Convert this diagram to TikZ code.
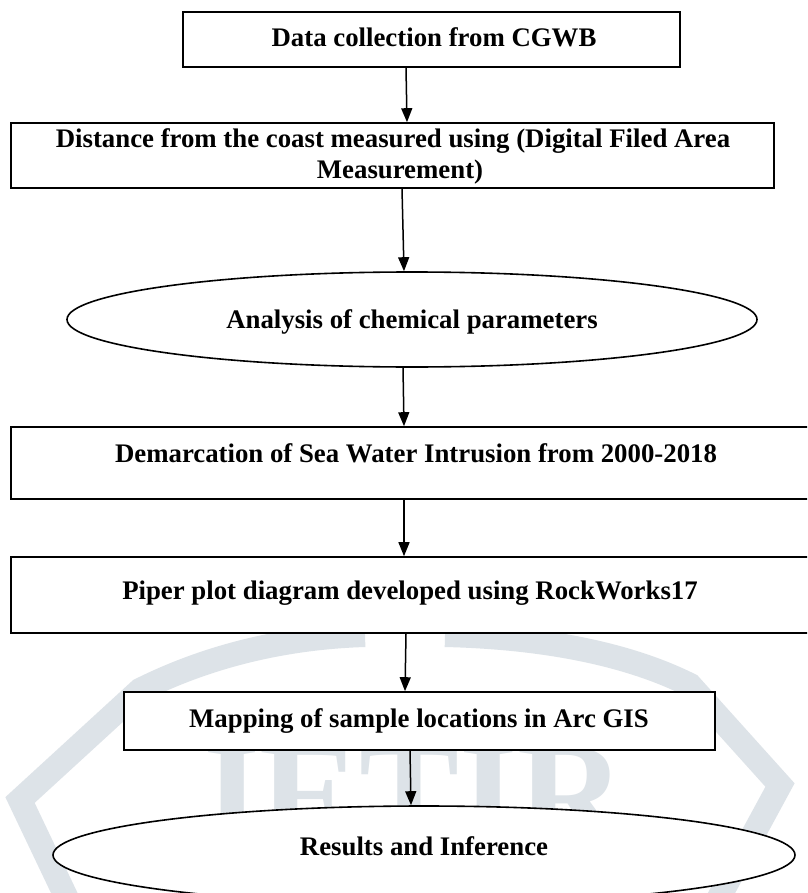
\documentclass[tikz,border=0pt]{standalone}
\usepackage{fontspec}
\setmainfont{Liberation Serif}
\usetikzlibrary{arrows.meta,shapes.geometric,calc}
\definecolor{wm}{HTML}{DDE3E8}
\begin{document}
\begin{tikzpicture}[x=1pt,y=-1pt,
  box/.style={draw=black,line width=1.6pt,fill=white,rectangle,inner sep=0pt},
  oval/.style={draw=black,line width=1.6pt,fill=white,ellipse,inner sep=0pt},
  lbl/.style={font=\bfseries\fontsize{26.8}{31}\selectfont,inner sep=0pt,anchor=base},
  arr/.style={line width=1.5pt,-{Triangle[length=14pt,width=11pt]}},
  wmline/.style={draw=wm,line width=24pt}]
\clip (0,0) rectangle (807,893);
\fill[white] (0,0) rectangle (807,893);
% watermark
\draw[wmline] (70,905) -- (20,800) -- (140,690) .. controls (220,650) and (300,637) .. (365,635);
\draw[wmline] (445,635) .. controls (530,637) and (620,650) .. (690,685) -- (780,785) -- (715,905);
\node[text=wm,font=\bfseries\fontsize{150}{150}\selectfont,inner sep=0pt,anchor=base,
      text height=100pt,text depth=-40pt] (wmtext) at (405,845) {JETIR};
% shapes
\node[box,minimum width=497pt,minimum height=55pt] (b1) at (431.5,39.5) {};
\node[box,minimum width=763pt,minimum height=65pt] (b2) at (392.5,155.5) {};
\node[oval,minimum width=690pt,minimum height=95pt] (e1) at (412,319.5) {};
\node[box,minimum width=804pt,minimum height=72pt] (b3) at (413,463) {};
\node[box,minimum width=804pt,minimum height=76pt] (b4) at (413,595) {};
\node[box,minimum width=591pt,minimum height=58pt] (b5) at (419.5,721) {};
\node[oval,minimum width=742pt,minimum height=98pt] (e2) at (424,855) {};
% labels
\node[lbl] (t1) at (434,47) {Data collection from CGWB};
\node[lbl] (t2a) at (393,148) {Distance from the coast measured using (Digital Filed Area};
\node[lbl] (t2b) at (400,179) {Measurement)};
\node[lbl] (t3) at (412,328) {Analysis of chemical parameters};
\node[lbl] (t4) at (416,462) {Demarcation of Sea Water Intrusion from 2000-2018};
\node[lbl] (t5) at (410,599) {Piper plot diagram developed using RockWorks17};
\node[lbl] (t6) at (419,727) {Mapping of sample locations in Arc GIS};
\node[lbl] (t7) at (424,855) {Results and Inference};
% arrows
\draw[arr] ($(b1.south)+(-25.5,0)$) -- ($(b2.north)+(14.5,0)$);
\draw[arr] ($(b2.south)+(9.5,0)$) -- ($(e1.north)+(-8,0)$);
\draw[arr] ($(e1.south)+(-9,0)$) -- ($(b3.north)+(-9,0)$);
\draw[arr] ($(b3.south)+(-9,0)$) -- ($(b4.north)+(-9,0)$);
\draw[arr] ($(b4.south)+(-7,0)$) -- ($(b5.north)+(-14.5,0)$);
\draw[arr] ($(b5.south)+(-9.5,0)$) -- ($(e2.north)+(-13,0)$);
\end{tikzpicture}
\end{document}
